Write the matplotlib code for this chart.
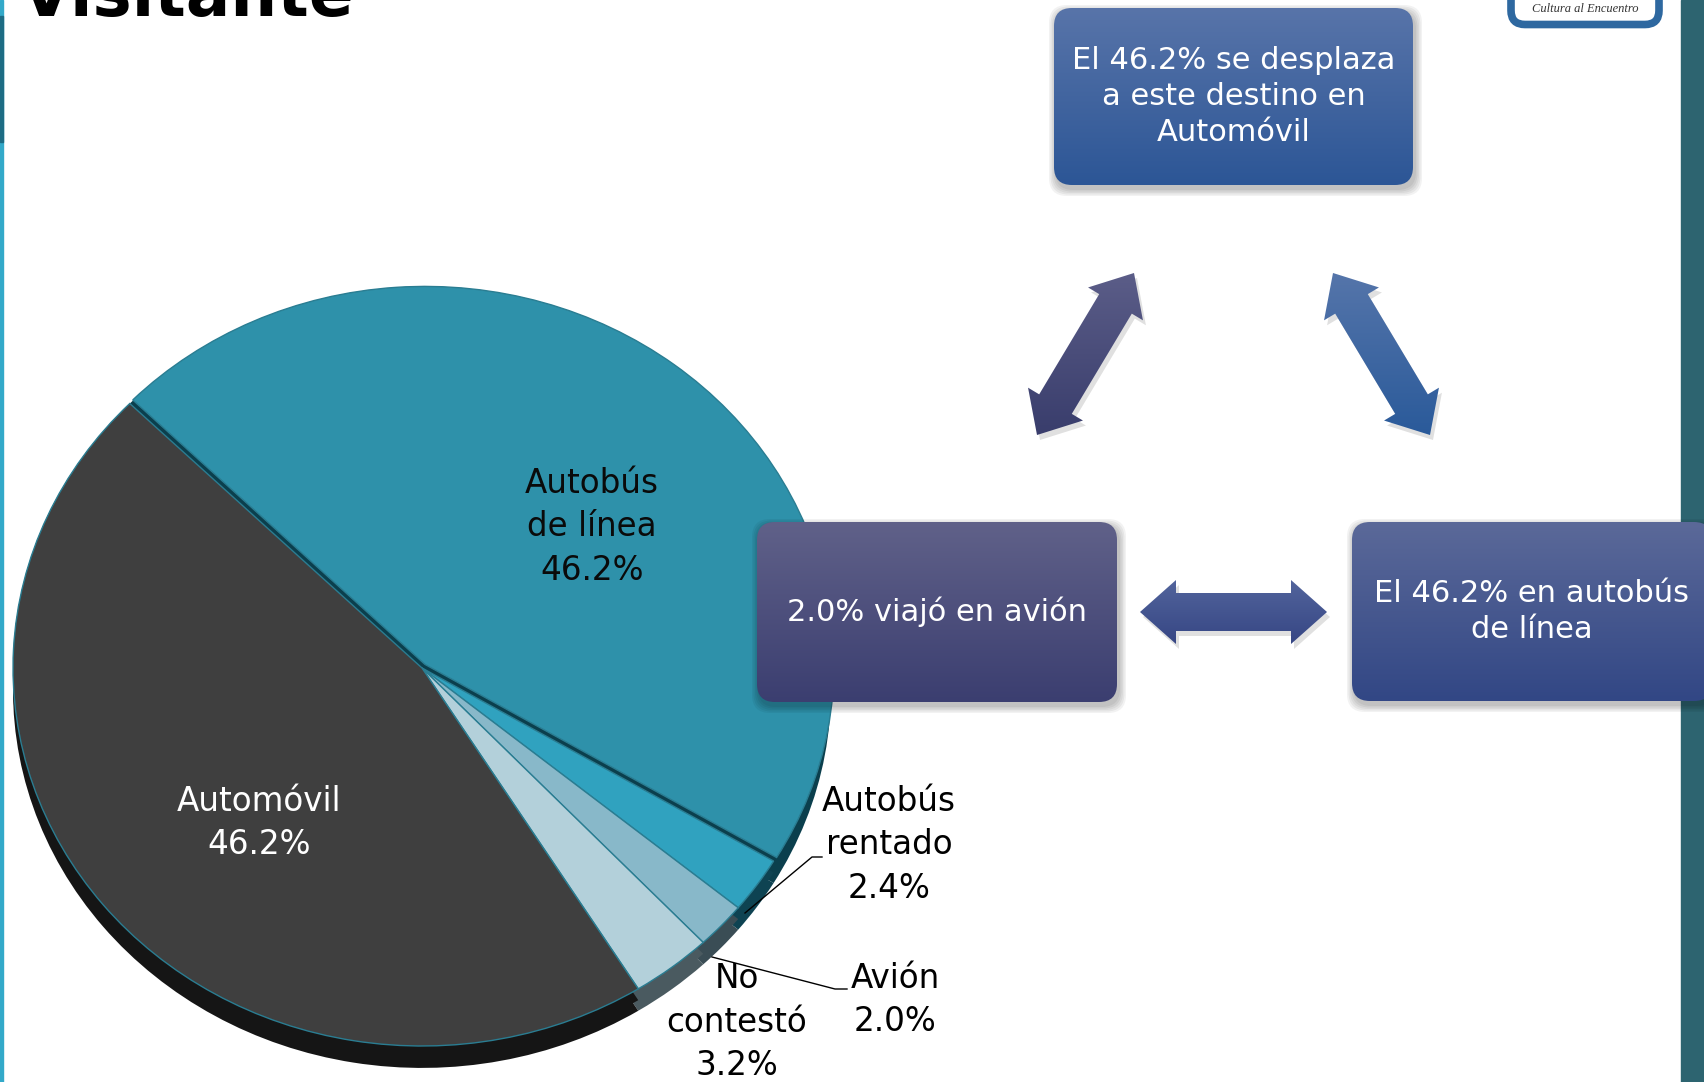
import numpy as np
import matplotlib
matplotlib.use("Agg")
import matplotlib.pyplot as plt
from matplotlib.patches import FancyBboxPatch, Polygon, Rectangle
from matplotlib.colors import LinearSegmentedColormap

# data
transport = ['Autobús\nde línea', 'Autobús\nrentado', 'Avión', 'No\ncontestó', 'Automóvil']
shares = [46.2, 2.4, 2.0, 3.2, 46.2]
top_colors = ['#2e91aa', '#30a2bf', '#88b8c9', '#b3d0da', '#3f3f3f']
side_colors = ['#0b3f4d', '#0e4352', '#3a4d55', '#4a5a60', '#151515']
explode = [0.012, 0.0, 0.0, 0.0, 0.0]

title = 'Visitante'
box_texts = ['El 46.2% se desplaza\na este destino en\nAutomóvil',
             '2.0% viajó en avión',
             'El 46.2% en autobús\nde línea']

W, H = 1704, 1082
fig = plt.figure(figsize=(W / 100, H / 100), dpi=100, facecolor='white')
plt.rcParams['font.family'] = ['DejaVu Sans']

# ---- pie (slightly squashed, with darker copies below for depth)
cx, cy, rx, ry = 422, 668, 409, 378
lim = 1.2
ax = fig.add_axes([(cx - lim * rx) / W, (H - cy - lim * ry) / H,
                   2 * lim * rx / W, 2 * lim * ry / H])
ax.set_zorder(1)
for dy in (-0.058, -0.03, 0.0):
    ax.pie(shares, colors=side_colors, startangle=135.6, counterclock=False,
           center=(0, dy), wedgeprops=dict(linewidth=0))
ax.pie(shares, colors=top_colors, startangle=135.6, counterclock=False,
       explode=explode, wedgeprops=dict(edgecolor='#2a7d92', linewidth=1))
ax.set_aspect('auto')
ax.set_xlim(-lim, lim)
ax.set_ylim(-lim, lim)
ax.axis('off')


def pie_xy(px, py):
    return (px - cx) / rx, (cy - py) / ry


ax.text(*pie_xy(592, 527), f'{transport[0]}\n{shares[0]:.1f}%', ha='center', va='center',
        fontsize=23.5, color='#0a0a0a', linespacing=1.4)
ax.text(*pie_xy(259, 823), f'{transport[4]}\n{shares[4]:.1f}%', ha='center', va='center',
        fontsize=23.5, color='white', linespacing=1.4)

# ---- overlay in pixel coordinates
ov = fig.add_axes([0, 0, 1, 1])
ov.set_zorder(2)
ov.patch.set_alpha(0)
ov.axis('off')

# side strips
ov.add_patch(Rectangle((0, 0), 3, H, color='#33a9c9', zorder=1))
ov.add_patch(Rectangle((0, 16), 3, 126, color='#1d6c84', zorder=1))
ov.add_patch(Rectangle((1681, 0), 23, H, color='#2d6470', zorder=1))

# title (cut by the top edge, as on the slide)
ov.text(21, 16, title, fontsize=47.5, fontweight='bold', va='baseline', ha='left', color='black')

# logo
ov.add_patch(FancyBboxPatch((1511, -40), 148, 64.5, boxstyle='round,pad=0,rounding_size=14',
                            facecolor='white', edgecolor='#2e68a0', linewidth=5.5, zorder=3))
ov.text(1585, 9, 'Cultura al Encuentro', fontsize=9, style='italic', family='Liberation Serif',
        ha='center', va='center', color='#333333', zorder=4)

# outside labels and leader lines
ov.text(889, 845, f'{transport[1]}\n{shares[1]:.1f}%', ha='center', va='center',
        fontsize=23.5, linespacing=1.4)
ov.text(895, 1000, f'{transport[2]}\n{shares[2]:.1f}%', ha='center', va='center',
        fontsize=23.5, linespacing=1.4)
ov.text(737, 1022, f'{transport[3]}\n{shares[3]:.1f}%', ha='center', va='center',
        fontsize=23.5, linespacing=1.4)
ov.plot([745, 812, 822], [913, 857, 857], color='black', lw=1)
ov.plot([712, 835, 847], [957, 989, 989], color='black', lw=1)


def gradient(patch, c_top, c_bottom, y0, y1, x0, x1, z):
    patch.set_facecolor('none')
    patch.set_edgecolor('none')
    ov.add_patch(patch)
    cmap = LinearSegmentedColormap.from_list('g', [c_top, c_bottom])
    grad = np.linspace(0, 1, 256).reshape(-1, 1)
    im = ov.imshow(grad, cmap=cmap, extent=(x0, x1, y1, y0), aspect='auto',
                   interpolation='bilinear', zorder=z)
    im.set_clip_path(patch)


def box(x0, y0, x1, y1, c_top, c_bottom, text):
    for k in range(5):
        ov.add_patch(FancyBboxPatch((x0 + 2, y0 + 4), x1 - x0, y1 - y0,
                                    boxstyle=f'round,pad={1 + k * 1.5},rounding_size=18',
                                    facecolor='black', alpha=0.05, edgecolor='none', zorder=4))
    p = FancyBboxPatch((x0, y0), x1 - x0, y1 - y0, boxstyle='round,pad=0,rounding_size=18')
    gradient(p, c_top, c_bottom, y0, y1, x0, x1, 5)
    ov.text((x0 + x1) / 2, (y0 + y1) / 2, text, ha='center', va='center', fontsize=22,
            color='white', linespacing=1.32, zorder=6)


def arrow(p1, p2, c_top, c_bottom, w=19, hw=32, hl=36):
    p1, p2 = np.array(p1, float), np.array(p2, float)
    L = np.hypot(*(p2 - p1))
    u = (p2 - p1) / L
    n = np.array([-u[1], u[0]])
    local = [(0, 0), (hl, hw), (hl, w), (L - hl, w), (L - hl, hw), (L, 0),
             (L - hl, -hw), (L - hl, -w), (hl, -w), (hl, -hw)]
    pts = np.array([p1 + a * u + b * n for a, b in local])
    ov.add_patch(Polygon(pts + [3, 5], closed=True, facecolor='black', alpha=0.12,
                         edgecolor='none', zorder=4))
    poly = Polygon(pts, closed=True)
    gradient(poly, c_top, c_bottom, pts[:, 1].min(), pts[:, 1].max(),
             pts[:, 0].min(), pts[:, 0].max(), 5)


box(1054, 8, 1413, 185, '#5874a9', '#2c5696', box_texts[0])
box(757, 522, 1117, 702, '#606189', '#3b3e70', box_texts[1])
box(1352, 522, 1712, 701, '#5b6999', '#324785', box_texts[2])

arrow((1037, 435), (1134, 273), '#5b5d88', '#393d6c')
arrow((1333, 273), (1430, 435), '#5575aa', '#2a5a9a')
arrow((1140, 612), (1327, 612), '#52649c', '#364684')

ov.set_xlim(0, W)
ov.set_ylim(H, 0)

fig.savefig('out.png', dpi=100, facecolor='white')
